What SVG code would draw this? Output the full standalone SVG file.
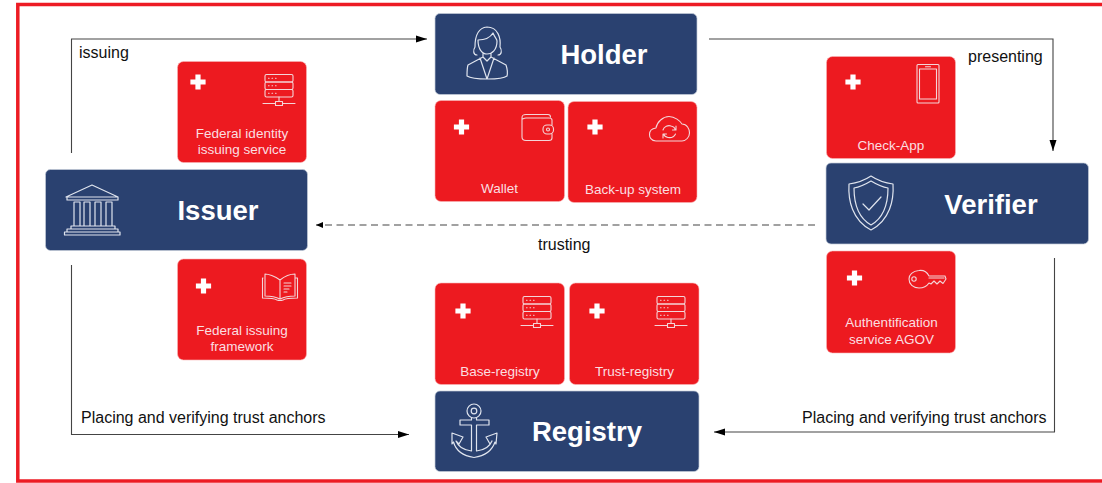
<svg xmlns="http://www.w3.org/2000/svg" width="1102" height="483" viewBox="0 0 1102 483">
<style>
.frame{fill:none;stroke:#ed1c24;stroke-width:3.5}
.navy{fill:#2a4170;stroke:#c3cbd9;stroke-width:.7}
.red{fill:#ed1a20;stroke:#f9b5b5;stroke-width:.6}
.ttl{font-family:"Liberation Sans",Arial,sans-serif;font-weight:700;font-size:27.500px;fill:#fff;text-anchor:middle}
.sub{font-family:"Liberation Sans",Arial,sans-serif;font-size:13.500px;fill:#fbdfe0;text-anchor:middle}
.lbl{font-family:"Liberation Sans",Arial,sans-serif;font-size:16px;fill:#111}
.ic{fill:none;stroke:#f4d5d8;stroke-width:1.1;stroke-linejoin:round;stroke-linecap:round}
.icn{fill:none;stroke:#dfe4ee;stroke-width:1.2;stroke-linejoin:round;stroke-linecap:round}
.plus{fill:#fff}
.con{fill:none;stroke:#444;stroke-width:1.1}
.dash{stroke-dasharray:7 4.500}
</style>
<defs>
<marker id="ah" markerUnits="userSpaceOnUse" markerWidth="12" markerHeight="10" refX="11" refY="5" orient="auto"><path d="M0 1.500L11 5L0 8.500Z" fill="#000"/></marker>
<marker id="ahs" markerUnits="userSpaceOnUse" markerWidth="8" markerHeight="8" refX="7" refY="4" orient="auto"><path d="M0 1L7 4L0 7Z" fill="#000"/></marker>
<path id="plus" class="plus" d="M-2.600-7.600H2.600V-2.600H7.600V2.600H2.600V7.600H-2.600V2.600H-7.600V-2.600H-2.600Z"/>
<g id="server">
<rect class="ic" x="-14" y="-14.500" width="28" height="7.500" rx="1.500"/>
<rect class="ic" x="-14" y="-7" width="28" height="7.500" rx="1.500"/>
<rect class="ic" x="-14" y=".5" width="28" height="7.500" rx="1.500"/>
<path class="ic" d="M-10.500-10.800h.6M-7-10.800h.6M-3.500-10.800h.6M-10.500-3.200h.6M-7-3.200h.6M-3.500-3.200h.6M-10.500 4.200h.6M-7 4.200h.6M-3.500 4.200h.6M0 8V12.500M-16 14.500H-3.500M3.500 14.500H16"/>
<rect class="ic" x="-3.500" y="12.500" width="7" height="4"/>
</g>
</defs>
<rect class="frame" x="17.800" y="4.500" width="1090" height="476.500"/>
<g id="connectors">
<path class="con" d="M71.500 153V39H427" marker-end="url(#ah)"/>
<path class="con" d="M709 39H1053V151" marker-end="url(#ah)"/>
<path class="con" d="M1054.500 258V432H714" marker-end="url(#ah)"/>
<path class="con" d="M71.500 265V434.500H409" marker-end="url(#ah)"/>
<path class="con dash" d="M815 225H316" marker-end="url(#ahs)"/>
</g>
<text class="lbl" x="79" y="58">issuing</text>
<text class="lbl" x="968" y="62">presenting</text>
<text class="lbl" x="538" y="250">trusting</text>
<text class="lbl" x="81" y="423">Placing and verifying trust anchors</text>
<text class="lbl" x="802" y="423">Placing and verifying trust anchors</text>
<g id="issuer">
<rect class="navy" x="45.500" y="169.500" width="262" height="81" rx="5"/>
<path class="icn" d="M66 197L92 185L118 197ZM67 197V200H118V197M71 200H83M74 202H80V226H74ZM84 202H90V226H84ZM95 202H101V226H95ZM106 202H112V226H106ZM71 226H115V229H71ZM67 229H118V232H67ZM64.500 232H120V235H64.500Z"/>
<text class="ttl" x="218" y="220">Issuer</text>
</g>
<g id="holder">
<rect class="navy" x="435" y="13.500" width="262" height="81" rx="5"/>
<path class="icn" d="M477 55C473 55 473 50 475 47C475 40 476 28 487 27C498 27 501 38 500 47C502 50 502 55 498 55M478 40C484 40 490 38 493 33C495 38 497 39 497 41C497 50 492 54 487 54C482 54 478 49 478 40ZM483 53V57L468 65C467 68 467 72 467 76C473 80 502 80 507 76C508 72 507 68 506 65L491 57V53M480 58L487 79L494 58M483 57L487 61L491 57"/>
<text class="ttl" x="604" y="64">Holder</text>
</g>
<g id="verifier">
<rect class="navy" x="826" y="163" width="262.500" height="81" rx="5"/>
<path class="icn" d="M871 176C865 180 857 183 849 184C848 200 852 220 871 230C890 220 894 200 893 184C885 183 877 180 871 176ZM871 181C866 184 860 187 854 188C854 202 857 217 871 225C885 217 888 202 888 188C882 187 876 184 871 181ZM863 204L869 210L881 197"/>
<text class="ttl" x="991" y="214">Verifier</text>
</g>
<g id="registry">
<rect class="navy" x="435" y="391" width="264" height="80.500" rx="5"/>
<path class="icn" d="M471.500 418V420H460V425H471.500V451C463 450 458 446 456 441L459 444L463 437L452 433L452 444L453.500 442C456 451 464 456 474 457.500C484 456 492 451 495 442L496 444L497 433L486 437L490 444L492 441C490 446 485 450 476.500 451V425H489V420H476.500V418"/>
<circle class="icn" cx="474" cy="411" r="7"/>
<circle class="icn" cx="474" cy="411" r="2.800"/>
<text class="ttl" x="587" y="441">Registry</text>
</g>
<g id="federal-identity">
<rect class="red" x="177.500" y="61.500" width="129" height="101" rx="6"/>
<use href="#plus" x="198" y="82"/>
<use href="#server" x="279" y="89"/>
<text class="sub" x="242" y="138">Federal identity</text>
<text class="sub" x="242" y="154">issuing service</text>
</g>
<g id="federal-framework">
<rect class="red" x="177.500" y="259" width="129" height="101" rx="6"/>
<use href="#plus" x="203.500" y="286"/>
<path class="ic" d="M280 280C275 276 268 274 265 274V296C270 296 276 297 280 299C284 297 290 296 295 296V274C291 274 285 276 280 280ZM280 280V299M263 278H262.500V298C268 298 274 298 277 300C279 300.700 281 300.700 283 300C286 298 292 298 297.500 298V278H295M284 283H291M284 286H291M284 289H289M284 292H287"/>
<text class="sub" x="242" y="335">Federal issuing</text>
<text class="sub" x="242" y="351">framework</text>
</g>
<g id="wallet">
<rect class="red" x="435" y="100.500" width="129.500" height="101" rx="6"/>
<use href="#plus" x="461.500" y="127"/>
<path class="ic" d="M522 118C522 115 523 114.500 526 114.500H548C550 114.500 550.500 115.500 550.500 117M522 118C522 120 523 118 526 118H549C551 118 552 119 552 120V125M552 134V138C552 140 551 140.500 549 140.500H526C523 140.500 522 139 522 137V118"/>
<rect class="ic" x="543" y="125" width="10.500" height="9" rx="4"/>
<circle class="ic" cx="548" cy="129.500" r="1.500"/>
<text class="sub" x="499.500" y="193">Wallet</text>
</g>
<g id="backup">
<rect class="red" x="568" y="101.500" width="129" height="101" rx="6"/>
<use href="#plus" x="595" y="127"/>
<path class="ic" d="M656 141C651 141 649.500 137 649.500 134.500C649.500 131 652 128.500 656 128C657 122 663 116.500 669 116.500C675 116.500 680 121 682 124C687 124 689.500 129 689.500 133C689.500 137 686 141 682 141Z"/>
<path class="ic" d="M663 130C664 126.500 668 125 671 126C673 126.500 675 128 675 129.500M676 126V130H672.500M675.500 134C674 137 671 138 668 137.500C666 137 664 135.500 663.500 134M663 138V134H666.500"/>
<text class="sub" x="633" y="194">Back-up system</text>
</g>
<g id="check-app">
<rect class="red" x="826.500" y="56.500" width="129" height="102" rx="6"/>
<use href="#plus" x="853" y="82"/>
<rect class="ic" x="917" y="64.500" width="22" height="38.500" rx="1"/>
<rect class="ic" x="919.500" y="69" width="17" height="30"/>
<path class="ic" d="M925.500 66.800H930.500"/>
<text class="sub" x="891" y="150">Check-App</text>
</g>
<g id="agov">
<rect class="red" x="826.500" y="251" width="129" height="102" rx="6"/>
<use href="#plus" x="854.500" y="278"/>
<path class="ic" d="M929 276C927 272 923 270 919 270.500C912.500 271 909 275 909 279C909 284 913 288 919 288C923 288 927 286 929 283L931 284L934 281L937 284L940 281L943 283.500L946 279L945 276Z"/>
<circle class="ic" cx="914" cy="279" r="2.200"/>
<path class="ic" d="M929 278H944"/>
<text class="sub" x="891.500" y="327">Authentification</text>
<text class="sub" x="891.500" y="344">service AGOV</text>
</g>
<g id="base-registry">
<rect class="red" x="435" y="283" width="129.500" height="101.500" rx="6"/>
<use href="#plus" x="463" y="311"/>
<use href="#server" x="537" y="311"/>
<text class="sub" x="500" y="376">Base-registry</text>
</g>
<g id="trust-registry">
<rect class="red" x="569.500" y="283" width="129.500" height="101.500" rx="6"/>
<use href="#plus" x="597" y="311"/>
<use href="#server" x="671" y="311"/>
<text class="sub" x="634.500" y="376">Trust-registry</text>
</g>
</svg>
